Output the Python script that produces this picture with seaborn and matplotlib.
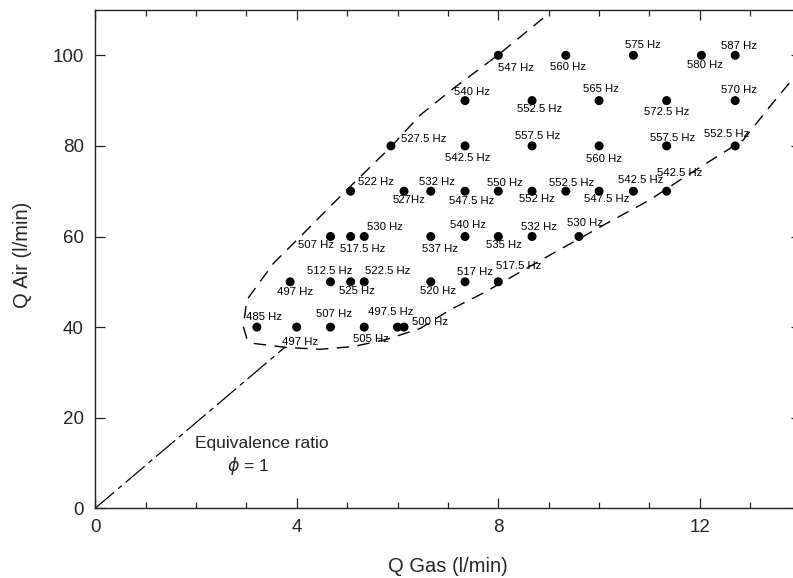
import matplotlib
matplotlib.use("Agg")
import matplotlib.pyplot as plt
import seaborn as sns
import pandas as pd

# ---- data ----
gas_flow = [3.21, 4.00, 4.67, 5.34, 6.00, 6.13,
            3.87, 4.67, 5.07, 5.34, 6.66, 7.34, 8.00,
            4.67, 5.07, 5.34, 6.66, 7.34, 8.00, 8.67, 9.60,
            5.07, 6.13, 6.66, 7.34, 8.00, 8.67, 9.34, 10.00, 10.68, 11.34,
            5.87, 7.34, 8.67, 10.00, 11.34, 12.70,
            7.34, 8.67, 10.00, 11.34, 12.70,
            8.00, 9.34, 10.68, 12.03, 12.70]
air_flow = [40] * 6 + [50] * 7 + [60] * 8 + [70] * 10 + [80] * 6 + [90] * 5 + [100] * 5
freq_labels = ["485 Hz", "497 Hz", "507 Hz", "505 Hz", "497.5 Hz", "500 Hz",
               "497 Hz", "512.5 Hz", "525 Hz", "522.5 Hz", "520 Hz", "517 Hz", "517.5 Hz",
               "507 Hz", "517.5 Hz", "530 Hz", "537 Hz", "540 Hz", "535 Hz", "532 Hz", "530 Hz",
               "522 Hz", "527Hz", "532 Hz", "547.5 Hz", "550 Hz", "552 Hz", "552.5 Hz",
               "547.5 Hz", "542.5 Hz", "542.5 Hz",
               "527.5 Hz", "542.5 Hz", "557.5 Hz", "560 Hz", "557.5 Hz", "552.5 Hz",
               "540 Hz", "552.5 Hz", "565 Hz", "572.5 Hz", "570 Hz",
               "547 Hz", "560 Hz", "575 Hz", "580 Hz", "587 Hz"]

# stability envelope (hand-drawn boundary in the reference)
envelope_gas = [8.89, 8.00, 7.11, 6.45, 5.87, 5.06, 4.66, 4.20, 3.54, 3.01, 2.94,
                3.01, 3.14, 3.80, 4.46, 5.12, 5.79, 6.45, 7.04, 7.70, 8.96,
                10.15, 11.01, 11.61, 12.86, 13.33, 13.82, 14.20]
envelope_air = [108.2, 100.1, 92.7, 86.8, 79.8, 71.0, 66.6, 61.4, 54.1, 46.0, 40.1,
                37.5, 36.4, 35.5, 35.1, 35.7, 37.3, 39.7, 43.8, 47.5, 55.5,
                62.9, 68.1, 72.5, 81.3, 87.9, 94.5, 100.0]

# equivalence ratio phi = 1 line
phi_gas = [0.0, 3.77]
phi_air = [0.0, 35.6]

# label offsets (pixels, dx right, dy up) relative to each dot
label_offsets = [(7, 10), (3, -15), (4, 13), (7, -12), (-7, 15), (26, 5),
                 (5, -10), (-1, 11), (6, -9), (23, 11), (7, -9), (10, 10), (20, 16),
                 (-14, -9), (12, -12), (21, 9), (9, -12), (3, 11), (6, -8), (7, 10), (6, 13),
                 (25, 9), (5, -9), (6, 9), (7, -10), (7, 8), (5, -8), (6, 8), (8, -8), (7, 11), (13, 18),
                 (33, 7), (3, -12), (6, 10), (5, -13), (6, 8), (-9, 12),
                 (7, 9), (8, -8), (2, 12), (0, -11), (4, 11),
                 (18, -13), (2, -12), (10, 10), (4, -10), (4, 9)]

df = pd.DataFrame({"gas": gas_flow, "air": air_flow, "label": freq_labels})
env = pd.DataFrame({"gas": envelope_gas, "air": envelope_air})
phi = pd.DataFrame({"gas": phi_gas, "air": phi_air})

sns.set_theme(style="ticks")
plt.rcParams["font.family"] = ["Liberation Sans", "DejaVu Sans"]
plt.rcParams["mathtext.fontset"] = "dejavusans"

fig = plt.figure(figsize=(7.93, 5.78), dpi=100)
ax = fig.add_axes([95.1 / 793, (578 - 508.3) / 578, (800.7 - 95.1) / 793, (508.3 - 10.0) / 578])

sns.lineplot(data=env, x="gas", y="air", sort=False, estimator=None, ax=ax,
             color="black", linewidth=1.0, linestyle=(0, (9, 6)))
sns.lineplot(data=phi, x="gas", y="air", sort=False, estimator=None, ax=ax,
             color="black", linewidth=0.9, linestyle=(0, (20, 4, 4, 4)))
sns.scatterplot(data=df, x="gas", y="air", ax=ax, color="black", s=42,
                edgecolor="none", zorder=5)

for (gx, ay, lab), (dx, dy) in zip(zip(gas_flow, air_flow, freq_labels), label_offsets):
    ax.annotate(lab, (gx, ay), xytext=(dx, dy), textcoords="offset pixels",
                ha="center", va="center", fontsize=8.2, color="black")

ax.text(3.31, 14.4, "Equivalence ratio", ha="center", va="center", fontsize=12.5)
ax.text(3.03, 9.3, r"$\phi$ = 1", ha="center", va="center", fontsize=12.5)

ax.set_xlim(0, 14)
ax.set_ylim(0, 110)
ax.set_xticks([0, 4, 8, 12])
ax.set_xticks(range(0, 15), minor=True)
ax.set_yticks([0, 20, 40, 60, 80, 100])
ax.tick_params(axis="both", which="major", direction="in", top=True, right=True,
               length=7, width=0.9, labelsize=13.5, pad=8, color="#222222")
ax.tick_params(axis="x", which="minor", direction="in", top=True, length=4.5, width=0.9,
               color="#222222")
for sp in ax.spines.values():
    sp.set_visible(True)
    sp.set_linewidth(1.0)
    sp.set_color("#222222")

ax.set_xlabel("Q Gas (l/min)", fontsize=14.5, va="center")
ax.set_ylabel("Q Air (l/min)", fontsize=14.5, va="center")
ax.xaxis.set_label_coords((448 - 95.1) / 705.6, -(567 - 508.3) / 498.3)
ax.yaxis.set_label_coords(-(95.1 - 22) / 705.6, (508.3 - 255) / 498.3)

fig.savefig("out.png", dpi=100)
